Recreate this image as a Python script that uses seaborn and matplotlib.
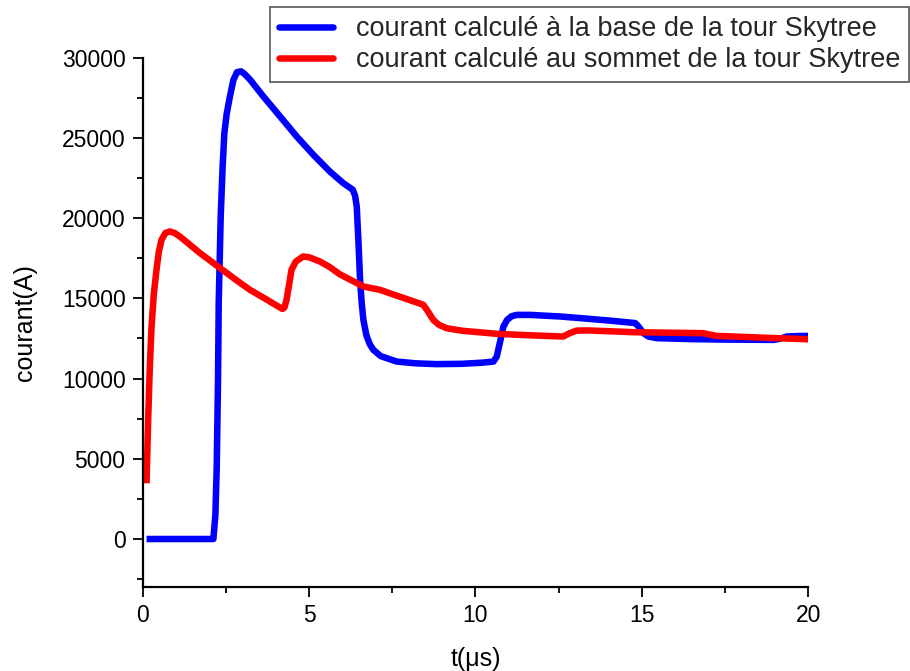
import matplotlib
matplotlib.use("Agg")
import matplotlib.pyplot as plt
from matplotlib.ticker import MultipleLocator
import numpy as np
import pandas as pd
import seaborn as sns

# Current computed at the base of the tower (t in µs, I in A)
t_base = [0.11, 0.6, 1.2, 1.8, 2.12, 2.18, 2.22, 2.26, 2.28, 2.34, 2.40, 2.45, 2.52, 2.60,
          2.72, 2.83, 2.95, 3.05, 3.22, 3.62, 4.12, 4.62, 5.12, 5.62, 6.02, 6.20, 6.31,
          6.38, 6.43, 6.48, 6.53, 6.58, 6.63, 6.72, 6.82, 6.93, 7.15, 7.63, 8.20, 8.83,
          9.60, 10.20, 10.54, 10.64, 10.74, 10.84, 10.95, 11.08, 11.24, 11.64, 12.54,
          13.14, 14.00, 14.80, 14.90, 15.05, 15.20, 15.45, 16.50, 17.50, 18.96, 19.15,
          19.36, 19.70, 20.0]
i_base = [0, 0, 0, 0, 0, 1500, 4400, 10000, 14700, 20100, 23300, 25300, 26500, 27400,
          28600, 29100, 29150, 29000, 28640, 27590, 26350, 25100, 23960, 22910, 22190,
          21930, 21770, 21400, 20730, 18600, 16160, 14700, 13660, 12700, 12150, 11790,
          11400, 11060, 10950, 10900, 10920, 10990, 11060, 11370, 12300, 13240, 13650,
          13880, 13970, 13970, 13870, 13770, 13620, 13460, 13250, 12830, 12620, 12520,
          12460, 12430, 12410, 12480, 12620, 12650, 12660]

# Current computed at the top of the tower
t_top = [0.11, 0.16, 0.21, 0.26, 0.33, 0.41, 0.48, 0.56, 0.68, 0.81, 0.95, 1.11, 1.70,
         2.32, 2.80, 3.22, 3.70, 4.12, 4.20, 4.26, 4.32, 4.40, 4.47, 4.60, 4.82, 5.00,
         5.32, 5.62, 5.92, 6.63, 7.13, 7.80, 8.43, 8.55, 8.73, 8.90, 9.13, 9.60, 10.64,
         11.60, 12.64, 12.80, 13.04, 13.40, 14.75, 15.80, 16.85, 17.00, 17.25, 18.50, 20.0]
i_top = [3470, 7500, 10800, 13200, 15300, 16780, 17900, 18650, 19080, 19170, 19080,
         18860, 17850, 16890, 16150, 15530, 14950, 14430, 14340, 14450, 14910, 15900,
         16780, 17300, 17610, 17560, 17300, 16950, 16500, 15740, 15530, 15050, 14600,
         14250, 13660, 13350, 13140, 12980, 12790, 12700, 12620, 12800, 12990, 13000,
         12890, 12860, 12830, 12760, 12660, 12560, 12450]

series_labels = ["courant calculé à la base de la tour Skytree",
                 "courant calculé au sommet de la tour Skytree"]
x_label = "t(μs)"
y_label = "courant(A)"

df = pd.concat([
    pd.DataFrame({"t": t_base, "I": i_base, "serie": series_labels[0]}),
    pd.DataFrame({"t": t_top, "I": i_top, "serie": series_labels[1]}),
], ignore_index=True)

sns.set_theme(style="ticks")
plt.rcParams["font.family"] = ["Liberation Sans", "DejaVu Sans"]

fig = plt.figure(figsize=(9.10, 6.71), dpi=100)
ax = fig.add_axes([0.157, 0.125, 0.731, 0.789])

lw = 4.7
sns.lineplot(data=df, x="t", y="I", hue="serie", hue_order=series_labels,
             palette=["#0000FF", "#FF0000"], estimator=None, sort=False,
             linewidth=lw, ax=ax, legend=False)
for line in ax.get_lines():
    line.set_solid_joinstyle("round")
    line.set_solid_capstyle("butt")

ax.set_xlim(0, 20)
ax.set_ylim(-3000, 30000)
ax.xaxis.set_major_locator(MultipleLocator(5))
ax.xaxis.set_minor_locator(MultipleLocator(2.5))
ax.yaxis.set_major_locator(MultipleLocator(5000))
ax.yaxis.set_minor_locator(MultipleLocator(2500))

for side in ("top", "right"):
    ax.spines[side].set_visible(False)
for side in ("left", "bottom"):
    ax.spines[side].set_linewidth(1.6)
    ax.spines[side].set_color("black")

ax.tick_params(which="major", direction="out", length=7.5, width=1.3,
               labelsize=16.5, colors="black", pad=5)
ax.tick_params(which="minor", direction="out", length=4, width=1.3, colors="black")

ax.set_xlabel(x_label, fontsize=18, color="black", labelpad=14)
ax.set_ylabel(y_label, fontsize=18, color="black", labelpad=18)

handles = [plt.Line2D([], [], color=c, linewidth=lw) for c in ("#0000FF", "#FF0000")]
leg = fig.legend(handles, series_labels, loc="upper right",
                 bbox_to_anchor=(0.999, 0.989), bbox_transform=fig.transFigure,
                 fontsize=19.5, frameon=True, fancybox=False, framealpha=1,
                 edgecolor="#555555", handlelength=2.0, handletextpad=0.85,
                 borderpad=0.32, labelspacing=0.2, borderaxespad=0,
                 handleheight=0.7)
leg.get_frame().set_linewidth(1.2)

fig.savefig("out.png", dpi=100, facecolor="white")
